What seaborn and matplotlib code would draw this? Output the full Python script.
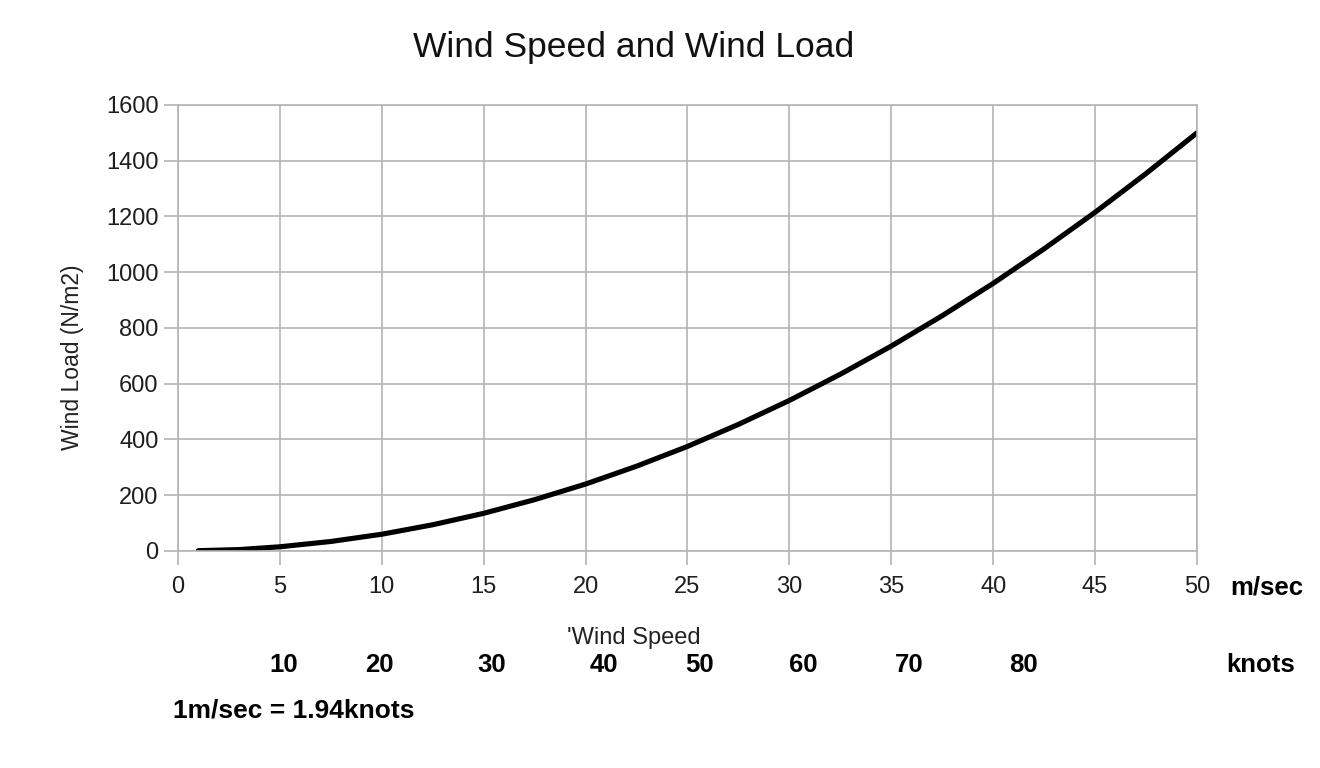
import matplotlib
matplotlib.use("Agg")
import matplotlib.pyplot as plt
import seaborn as sns
import pandas as pd

# wind speed (m/sec) and wind load (N/m2)
speed = [1, 3, 5, 7.5, 10, 12.5, 15, 17.5, 20, 22.5, 25, 27.5, 30, 32.5, 35, 37.5, 40, 42.5, 45, 47.5, 50]
load = [1, 5, 15, 34, 60, 94, 135, 184, 240, 304, 375, 454, 540, 634, 735, 844, 960, 1084, 1215, 1354, 1500]

ms_ticks = [0, 5, 10, 15, 20, 25, 30, 35, 40, 45, 50]
load_ticks = [0, 200, 400, 600, 800, 1000, 1200, 1400, 1600]
knot_labels = [10, 20, 30, 40, 50, 60, 70, 80]
knot_pos = [5.2, 9.9, 15.4, 20.9, 25.6, 30.7, 35.9, 41.5]  # where the knot labels sit on the m/sec axis

df = pd.DataFrame({"speed": speed, "load": load})

sns.set_theme(style="whitegrid")
plt.rcParams["font.family"] = ["Liberation Sans", "DejaVu Sans"]

fig = plt.figure(figsize=(13.2, 7.68), dpi=100)
ax = fig.add_axes([0.1348, 0.2826, 0.7720, 0.5807])

sns.lineplot(data=df, x="speed", y="load", ax=ax, color="black", linewidth=3.7)

ax.set_xlim(0, 50)
ax.set_ylim(0, 1600)
ax.set_xticks(ms_ticks)
ax.set_yticks(load_ticks)
grid_col = "#b4b4b4"
ax.grid(True, color=grid_col, linewidth=1.2)
for s in ax.spines.values():
    s.set_color(grid_col)
    s.set_linewidth(1.2)
ax.tick_params(axis="both", which="major", length=10, width=1.2, color=grid_col,
               labelsize=17, labelcolor="#1e1e1e", bottom=True, left=True)
ax.tick_params(axis="x", pad=8)
ax.tick_params(axis="y", pad=4)

ax.set_xlabel("'Wind Speed", fontsize=17, color="#222222")
ax.xaxis.set_label_coords(0.4475, -0.17)
ax.set_ylabel("Wind Load (N/m2)", fontsize=16.5, color="#222222")
ax.yaxis.set_label_coords(-0.092, 0.435)
ax.set_title("Wind Speed and Wind Load", fontsize=25.5, color="#111111",
             x=0.447, y=1.13, va="center", pad=0)

# knots scale below the plot
trans = ax.get_xaxis_transform()
bold = dict(transform=trans, ha="center", va="center", fontsize=18.5,
            fontweight="bold", color="black")
for p, k in zip(knot_pos, knot_labels):
    ax.text(p, -0.2556, str(k), **bold)
ax.text(53.1, -0.2556, "knots", **bold)
ax.text(53.4, -0.083, "m/sec", **bold)
fig.text(0.131, 0.075, "1m/sec = 1.94knots", ha="left", va="center",
         fontsize=19, fontweight="bold", color="black")

fig.savefig("out.png", dpi=100)
